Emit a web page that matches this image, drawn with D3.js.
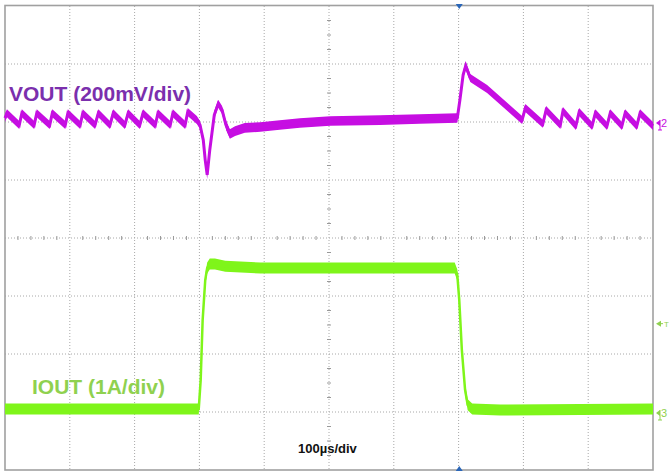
<!DOCTYPE html>
<html>
<head>
<meta charset="utf-8">
<script src="https://cdn.jsdelivr.net/npm/d3@7"></script>
<style>
  html, body { margin: 0; padding: 0; background: #fff; }
  svg { display: block; }
</style>
</head>
<body>
<svg id="chart" width="669" height="472"></svg>
<script>
// ---- data (read from the scope capture) ----
// time in microseconds (100 µs/div, 10 divisions)
const voutTimeUs = [0, 3, 22, 26, 45, 49, 69, 73, 93, 97, 116, 120, 139, 144, 162, 167, 185, 190, 208, 213, 232, 236, 255, 259, 278, 282,
  296, 301, 306, 309, 312, 316, 323, 329, 335, 341, 347, 355, 370, 394, 424, 455, 502, 579, 640, 698,
  702, 707, 711, 718, 744, 798, 803, 830, 835, 857, 861, 881, 886, 906, 911, 929, 934, 952, 957, 975, 980, 1000];
// VOUT deviation in mV (200 mV/div), relative to channel 2 reference marker
const voutMv = [17, 34, -7, 34, -7, 34, -7, 34, -7, 34, -7, 34, -7, 34, -7, 34, -7, 34, -7, 34, -7, 34, -7, 34, -7, 38,
  10, -7, -59, -128, -179, -93, 28, 66, 45, -7, -38, -28, -17, -14, -7, 0, 7, 10, 14, 17,
  79, 166, 197, 155, 117, 10, 52, -3, 45, -7, 41, -10, 38, -10, 34, -10, 34, -10, 34, -10, 34, -10];
// IOUT in A (1 A/div), relative to channel 3 reference marker
const ioutTimeUs = [0, 299, 302, 305, 309, 312, 316, 324, 340, 394, 455, 610, 694, 698, 701, 705, 710, 714, 721, 764, 1000];
const ioutA = [0.07, 0.07, 0.57, 1.6, 2.29, 2.5, 2.57, 2.57, 2.53, 2.5, 2.5, 2.5, 2.5, 2.38, 1.95, 1.09, 0.40, 0.14, 0.07, 0.05, 0.07];

const xGridDivs = d3.range(0, 11);   // 10 horizontal divisions
const yGridDivs = d3.range(-4, 5);   // 8 vertical divisions
const labels = { vout: "VOUT (200mV/div)", iout: "IOUT (1A/div)", time: "100µs/div" };
const ch2OffsetDiv = 1.983, ch3OffsetDiv = -3.017, mvPerDiv = 200, aPerDiv = 1;

// ---- scales ----
const x = d3.scaleLinear().domain([0, 1000]).range([5, 653]);
const yDiv = d3.scaleLinear().domain([-4, 4]).range([470, 6]);
const xDiv = d3.scaleLinear().domain([0, 10]).range([5, 653]);
const yV = v => yDiv(ch2OffsetDiv + v / mvPerDiv);
const yI = a => yDiv(ch3OffsetDiv + a / aPerDiv);

const svg = d3.select("#chart");

// ---- grid ----
const grid = svg.append("g");
grid.selectAll("line.v").data(xGridDivs.slice(1, -1)).enter().append("line")
  .attr("x1", d => xDiv(d)).attr("x2", d => xDiv(d)).attr("y1", 6).attr("y2", 470)
  .attr("stroke", "#a8a8a8").attr("stroke-width", 1).attr("stroke-dasharray", "1,2");
grid.selectAll("line.h").data(yGridDivs.slice(1, -1)).enter().append("line")
  .attr("y1", d => yDiv(d)).attr("y2", d => yDiv(d)).attr("x1", 5).attr("x2", 653)
  .attr("stroke", "#a8a8a8").attr("stroke-width", 1).attr("stroke-dasharray", "1,2");
// minor ticks on centre cross
const hTicks = d3.range(0, 50).map(i => i / 5).filter(d => d % 1 !== 0);
grid.selectAll("line.ht").data(hTicks).enter().append("line")
  .attr("x1", d => xDiv(d)).attr("x2", d => xDiv(d)).attr("y1", yDiv(0) - 2).attr("y2", yDiv(0) + 2)
  .attr("stroke", "#999").attr("stroke-width", 1);
const vTicks = d3.range(-16, 17).map(i => i / 4).filter(d => d % 1 !== 0);
grid.selectAll("line.vt").data(vTicks).enter().append("line")
  .attr("y1", d => yDiv(d)).attr("y2", d => yDiv(d)).attr("x1", xDiv(5) - 2).attr("x2", xDiv(5) + 2)
  .attr("stroke", "#999").attr("stroke-width", 1);
// border
svg.append("rect").attr("x", 5).attr("y", 5.5).attr("width", 648).attr("height", 464.5)
  .attr("fill", "none").attr("stroke", "#a0a0a0").attr("stroke-width", 1.6);

// ---- traces ----
const vout = voutTimeUs.map((t, i) => ({ t, v: voutMv[i] }));
const iout = ioutTimeUs.map((t, i) => ({ t, v: ioutA[i] }));

function band(data, yf, h) {
  return d3.area().x(d => x(d.t)).y0(d => yf(d.v) + h).y1(d => yf(d.v) - h)(data);
}
function line(data, yf) {
  return d3.line().x(d => x(d.t)).y(d => yf(d.v))(data);
}
const purple = "#c60ee2", green = "#7ff51a";

svg.append("path").attr("d", band(iout, yI, 5.5)).attr("fill", green);
svg.append("path").attr("d", line(iout, yI)).attr("fill", "none").attr("stroke", green).attr("stroke-width", 2.5);

svg.append("path").attr("d", band(vout, yV, 4)).attr("fill", purple);
svg.append("path").attr("d", band(vout.filter(d => d.t >= 341 && d.t <= 698), yV, 4.8)).attr("fill", purple);
svg.append("path").attr("d", line(vout, yV)).attr("fill", "none").attr("stroke", purple).attr("stroke-width", 3);

// ---- labels ----
svg.append("text").attr("x", 9).attr("y", 101).text(labels.vout)
  .attr("font-family", "Liberation Sans, Arial, sans-serif").attr("font-weight", "bold")
  .attr("font-size", 21).attr("fill", "#7b2fad");
svg.append("text").attr("x", 32).attr("y", 394).text(labels.iout)
  .attr("font-family", "Liberation Sans, Arial, sans-serif").attr("font-weight", "bold")
  .attr("font-size", 21).attr("fill", "#8fd14f");
svg.append("text").attr("x", 298).attr("y", 453).text(labels.time)
  .attr("font-family", "Liberation Sans, Arial, sans-serif").attr("font-weight", "bold")
  .attr("font-size", 13).attr("fill", "#111");

// ---- trigger markers ----
const trigX = x(701);
svg.append("path").attr("d", `M${trigX - 3.5},4 L${trigX + 3.5},4 L${trigX},9 Z`).attr("fill", "#2a66b8");
svg.append("path").attr("d", `M${trigX - 3.5},471 L${trigX + 3.5},471 L${trigX},466 Z`).attr("fill", "#2a66b8");

// ---- channel markers on right ----
function chMarker(y, color, txt) {
  const g = svg.append("g");
  g.append("path").attr("d", `M656,${y} L660,${y - 3} L660,${y + 3} Z`).attr("fill", color);
  g.append("line").attr("x1", 660).attr("x2", 660).attr("y1", y - 3).attr("y2", y + 7).attr("stroke", color).attr("stroke-width", 1);
  g.append("line").attr("x1", 658).attr("x2", 662).attr("y1", y + 7).attr("y2", y + 7).attr("stroke", color).attr("stroke-width", 1);
  g.append("text").attr("x", 661).attr("y", y + 4).text(txt)
    .attr("font-family", "Liberation Sans, Arial, sans-serif").attr("font-size", 11).attr("fill", color);
}
chMarker(yV(0), purple, "2");
chMarker(yI(0), "#8fd14f", "3");
// trigger level arrow
const trigY = yI(1.54);
svg.append("path").attr("d", `M656,${trigY} L661,${trigY - 3} L661,${trigY + 3} Z`).attr("fill", "#8fd14f");
svg.append("line").attr("x1", 660).attr("x2", 663).attr("y1", trigY).attr("y2", trigY).attr("stroke", "#8fd14f");
svg.append("text").attr("x", 664).attr("y", trigY + 3).text("T")
  .attr("font-family", "Liberation Sans, Arial, sans-serif").attr("font-size", 8).attr("fill", "#8fd14f");
</script>
</body>
</html>
